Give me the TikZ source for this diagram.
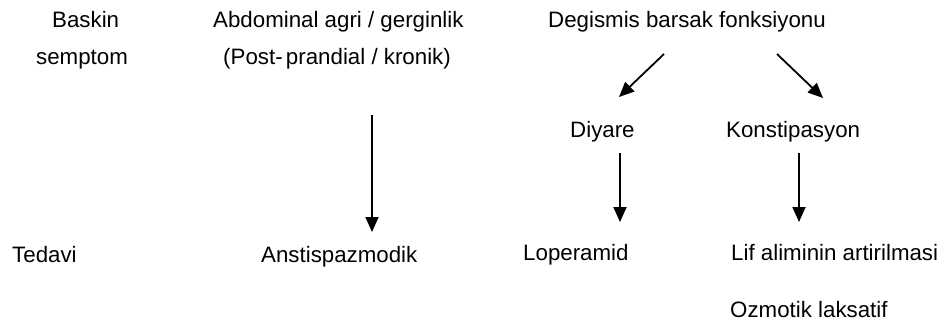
\documentclass[tikz,border=0pt]{standalone}
\usepackage{fontspec}
\setmainfont{Liberation Sans}
\usetikzlibrary{arrows.meta}
\begin{document}
\begin{tikzpicture}[x=1pt,y=-1pt,
  lbl/.style={anchor=base west,inner sep=0pt,font=\fontsize{22.3}{26}\selectfont},
  arr/.style={line width=1.8pt,-{Triangle[width=13pt,length=15pt]}}]
\useasboundingbox[fill=white] (0,0) rectangle (951,322);
% row labels
\node[lbl] (bas) at (52,27.5) {Baskin};
\node[lbl] (sem) at (36,64) {semptom};
\node[lbl] (ted) at (12,262) {Tedavi};
% symptom headings
\node[lbl] (abd) at (213,27.5) {Abdominal agri / gerginlik};
\node[lbl] (post) at (223,64) {(Post-\hspace{0.15em}prandial / kronik)};
\node[lbl] (deg) at (548,27) {Degismis barsak fonksiyonu};
\node[lbl] (diy) at (570,137) {Diyare};
\node[lbl] (kon) at (726,137) {Konstipasyon};
% treatments
\node[lbl] (ant) at (261,262) {Anstispazmodik};
\node[lbl] (lop) at (523,260) {Loperamid};
\node[lbl] (lif) at (731,260) {Lif aliminin artirilmasi};
\node[lbl] (ozm) at (730,317) {Ozmotik laksatif};
% connectors
\draw[arr] ([xshift=149pt,yshift=-51pt]post.base west) -- ([xshift=111pt,yshift=30pt]ant.base west);
\draw[arr] ([xshift=116pt,yshift=-27pt]deg.base west) -- ([xshift=49pt,yshift=40pt]diy.base west);
\draw[arr] ([xshift=229pt,yshift=-27pt]deg.base west) -- ([xshift=97pt,yshift=39pt]kon.base west);
\draw[arr] ([xshift=50pt,yshift=-16pt]diy.base west) -- ([xshift=97pt,yshift=38pt]lop.base west);
\draw[arr] ([xshift=73pt,yshift=-16pt]kon.base west) -- ([xshift=68pt,yshift=38pt]lif.base west);
\end{tikzpicture}
\end{document}
